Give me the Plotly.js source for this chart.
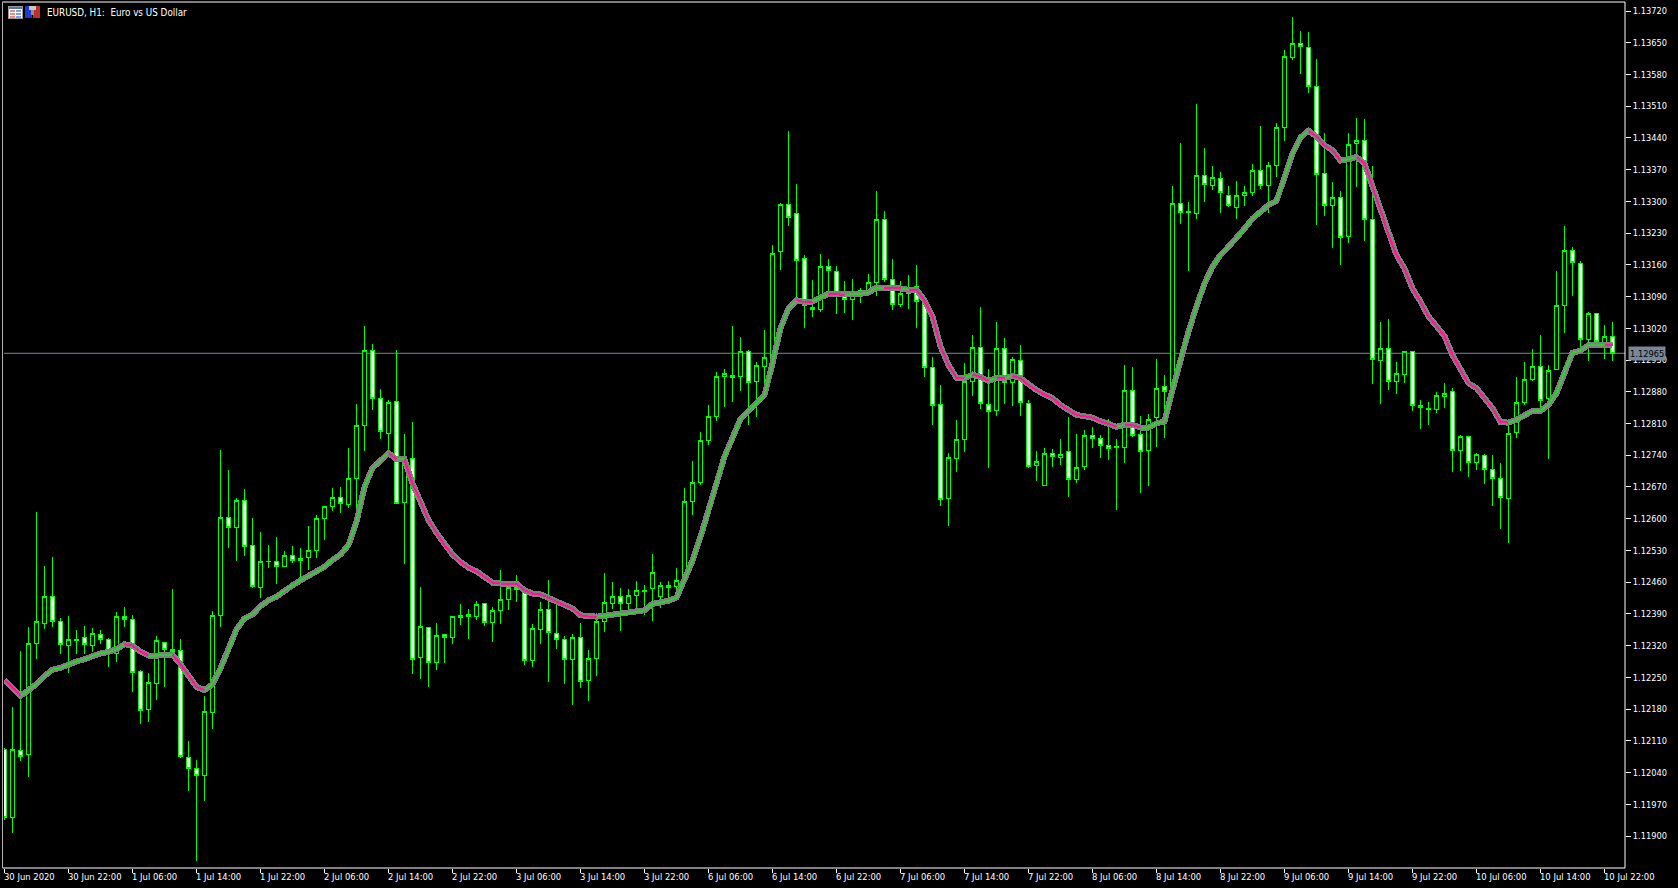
<!DOCTYPE html>
<html>
<head>
<meta charset="utf-8">
<script src="https://cdn.plot.ly/plotly-3.0.1.min.js"></script>
<style>
html,body{margin:0;padding:0;background:#000;overflow:hidden}
#chart{width:1678px;height:888px}
.js-line{shape-rendering:crispEdges}
.boxes path{shape-rendering:crispEdges}
</style>
</head>
<body>
<div id="chart"></div>
<script>
const opens=[
1.12090,1.11941,1.12089,1.12079,1.12325,1.12369,1.12428,1.12373,1.12320,1.12332,
1.12338,1.12320,1.12345,1.12334,1.12303,1.12384,1.12378,1.12263,1.12179,1.12237,
1.12327,1.12312,1.12309,1.12073,1.12049,1.12034,1.12173,1.12387,1.12603,1.12581,
1.12640,1.12541,1.12448,1.12505,1.12506,1.12495,1.12518,1.12508,1.12514,1.12530,
1.12600,1.12626,1.12647,1.12631,1.12689,1.12806,1.12971,1.12865,1.12788,1.12858,
1.12635,1.12732,1.12294,1.12360,1.12283,1.12345,1.12338,1.12383,1.12389,1.12384,
1.12412,1.12371,1.12398,1.12422,1.12448,1.12437,1.12287,1.12356,1.12400,1.12347,
1.12334,1.12290,1.12338,1.12243,1.12292,1.12373,1.12413,1.12428,1.12413,1.12431,
1.12440,1.12446,1.12428,1.12453,1.12450,1.12464,1.12638,1.12680,1.12773,1.12826,
1.12914,1.12916,1.12914,1.12969,1.12903,1.12936,1.12956,1.13190,1.13293,1.13274,
1.13174,1.13066,1.13062,1.13157,1.13146,1.13093,1.13084,1.13094,1.13104,1.13121,
1.13260,1.13128,1.13073,1.13097,1.13113,1.13079,1.12934,1.12852,1.12645,1.12733,
1.12775,1.12903,1.12978,1.12852,1.12839,1.12976,1.12901,1.12949,1.12855,1.12718,
1.12674,1.12744,1.12735,1.12749,1.12687,1.12716,1.12784,1.12777,1.12762,1.12758,
1.12758,1.12883,1.12786,1.12751,1.12824,1.12892,1.12881,1.13296,1.13276,1.13274,
1.13357,1.13335,1.13351,1.13313,1.13287,1.13313,1.13320,1.13368,1.13335,1.13379,
1.13463,1.13618,1.13648,1.13640,1.13554,1.13362,1.13291,1.13309,1.13223,1.13428,
1.13435,1.13260,1.12949,1.12976,1.12903,1.12919,1.12969,1.12850,1.12844,1.12841,
1.12870,1.12881,1.12751,1.12782,1.12724,1.12740,1.12709,1.12689,1.12645,1.12791,
1.12857,1.12907,1.12936,1.12866,1.12930,1.13071,1.13192,1.13163,1.12996,1.13053,
1.12987,1.13002];
const highs=[
1.12095,1.12184,1.12308,1.12362,1.12614,1.12495,1.12515,1.12380,1.12385,1.12354,
1.12363,1.12358,1.12354,1.12336,1.12394,1.12405,1.12387,1.12267,1.12259,1.12341,
1.12327,1.12445,1.12334,1.12109,1.12067,1.12209,1.12396,1.12752,1.12707,1.12645,
1.12665,1.12601,1.12571,1.12542,1.12559,1.12528,1.12539,1.12536,1.12584,1.12609,
1.12627,1.12667,1.12670,1.12755,1.12854,1.13025,1.12985,1.12887,1.12861,1.12972,
1.12786,1.12814,1.12449,1.12362,1.12370,1.12345,1.12386,1.12412,1.12400,1.12418,
1.12413,1.12406,1.12488,1.12457,1.12475,1.12439,1.12367,1.12417,1.12464,1.12411,
1.12342,1.12345,1.12370,1.12310,1.12393,1.12481,1.12460,1.12447,1.12444,1.12462,
1.12453,1.12523,1.12460,1.12462,1.12492,1.12667,1.12727,1.12792,1.12851,1.12923,
1.12931,1.13025,1.13000,1.12972,1.12945,1.13016,1.13203,1.13296,1.13455,1.13338,
1.13182,1.13127,1.13185,1.13174,1.13157,1.13124,1.13129,1.13110,1.13140,1.13323,
1.13278,1.13172,1.13124,1.13137,1.13159,1.13082,1.12957,1.12896,1.12746,1.12818,
1.12943,1.13005,1.13066,1.12930,1.13033,1.12998,1.12956,1.12983,1.12863,1.12749,
1.12757,1.12753,1.12775,1.12824,1.12788,1.12796,1.12802,1.12784,1.12821,1.12775,
1.12940,1.12934,1.12826,1.12832,1.12952,1.12917,1.13335,1.13428,1.13298,1.13514,
1.13417,1.13378,1.13364,1.13335,1.13346,1.13333,1.13382,1.13466,1.13388,1.13472,
1.13635,1.13706,1.13675,1.13673,1.13615,1.13450,1.13343,1.13322,1.13450,1.13485,
1.13481,1.13379,1.13033,1.13040,1.12945,1.12970,1.12970,1.12863,1.12857,1.12879,
1.12899,1.12888,1.12784,1.12783,1.12746,1.12743,1.12740,1.12724,1.12807,1.12912,
1.12945,1.12974,1.13005,1.12939,1.13146,1.13246,1.13199,1.13168,1.13057,1.13053,
1.13027,1.13035];
const lows=[
1.11935,1.11907,1.12066,1.12031,1.12291,1.12356,1.12361,1.12302,1.12260,1.12302,
1.12302,1.12306,1.12324,1.12273,1.12284,1.12361,1.12218,1.12148,1.12152,1.12200,
1.12229,1.12303,1.12073,1.12000,1.11845,1.11978,1.12137,1.12362,1.12536,1.12507,
1.12517,1.12448,1.12426,1.12492,1.12457,1.12495,1.12503,1.12470,1.12486,1.12514,
1.12553,1.12617,1.12613,1.12624,1.12620,1.12750,1.12840,1.12776,1.12747,1.12633,
1.12500,1.12258,1.12247,1.12229,1.12267,1.12282,1.12324,1.12365,1.12334,1.12376,
1.12364,1.12328,1.12368,1.12399,1.12417,1.12278,1.12273,1.12323,1.12240,1.12313,
1.12236,1.12190,1.12227,1.12198,1.12253,1.12351,1.12401,1.12353,1.12397,1.12400,
1.12388,1.12375,1.12404,1.12426,1.12428,1.12461,1.12608,1.12675,1.12763,1.12816,
1.12847,1.12858,1.12882,1.12807,1.12825,1.12890,1.12945,1.13149,1.13246,1.13086,
1.13021,1.13046,1.13057,1.13097,1.13052,1.13054,1.13039,1.13077,1.13098,1.13092,
1.13123,1.13061,1.13068,1.13063,1.13021,1.12913,1.12807,1.12629,1.12584,1.12704,
1.12748,1.12870,1.12843,1.12713,1.12827,1.12854,1.12849,1.12827,1.12711,1.12684,
1.12673,1.12715,1.12719,1.12649,1.12679,1.12708,1.12755,1.12735,1.12730,1.12620,
1.12724,1.12780,1.12657,1.12673,1.12759,1.12777,1.12880,1.13251,1.13147,1.13262,
1.13299,1.13325,1.13275,1.13288,1.13262,1.13290,1.13313,1.13328,1.13274,1.13354,
1.13434,1.13613,1.13582,1.13540,1.13248,1.13268,1.13198,1.13160,1.13209,1.13332,
1.13213,1.12898,1.12852,1.12885,1.12876,1.12900,1.12838,1.12799,1.12807,1.12834,
1.12845,1.12704,1.12706,1.12691,1.12708,1.12677,1.12629,1.12578,1.12547,1.12777,
1.12850,1.12903,1.12844,1.12732,1.12927,1.13010,1.13092,1.12976,1.12949,1.12976,
1.12953,1.12947];
const closes=[
1.11941,1.12090,1.12075,1.12325,1.12373,1.12428,1.12373,1.12323,1.12334,1.12334,
1.12323,1.12347,1.12334,1.12306,1.12384,1.12378,1.12261,1.12177,1.12239,1.12331,
1.12312,1.12307,1.12075,1.12049,1.12034,1.12175,1.12387,1.12603,1.12581,1.12640,
1.12539,1.12451,1.12506,1.12506,1.12495,1.12518,1.12507,1.12512,1.12530,1.12600,
1.12627,1.12647,1.12633,1.12689,1.12806,1.12971,1.12865,1.12792,1.12856,1.12633,
1.12735,1.12289,1.12362,1.12283,1.12342,1.12338,1.12384,1.12387,1.12384,1.12411,
1.12371,1.12398,1.12422,1.12448,1.12444,1.12287,1.12358,1.12400,1.12349,1.12334,
1.12290,1.12338,1.12241,1.12292,1.12373,1.12415,1.12428,1.12413,1.12431,1.12442,
1.12442,1.12481,1.12453,1.12448,1.12464,1.12638,1.12680,1.12773,1.12826,1.12914,
1.12920,1.12912,1.12969,1.12900,1.12938,1.12956,1.13185,1.13293,1.13265,1.13170,
1.13071,1.13062,1.13157,1.13148,1.13097,1.13084,1.13094,1.13104,1.13121,1.13260,
1.13128,1.13073,1.13097,1.13108,1.13079,1.12934,1.12850,1.12643,1.12735,1.12775,
1.12902,1.12978,1.12855,1.12837,1.12976,1.12901,1.12952,1.12857,1.12716,1.12727,
1.12744,1.12738,1.12742,1.12687,1.12713,1.12784,1.12777,1.12762,1.12755,1.12760,
1.12883,1.12784,1.12749,1.12819,1.12888,1.12881,1.13296,1.13276,1.13278,1.13357,
1.13337,1.13353,1.13320,1.13291,1.13313,1.13320,1.13368,1.13335,1.13379,1.13463,
1.13620,1.13648,1.13642,1.13554,1.13360,1.13291,1.13309,1.13221,1.13426,1.13435,
1.13260,1.12951,1.12976,1.12903,1.12921,1.12969,1.12850,1.12845,1.12842,1.12872,
1.12877,1.12751,1.12782,1.12724,1.12742,1.12709,1.12689,1.12647,1.12788,1.12857,
1.12907,1.12936,1.12861,1.12927,1.13071,1.13192,1.13166,1.12996,1.13053,1.12991,
1.13002,1.12965];
const maValues=[
1.12244,1.12228,1.12209,1.12222,1.12235,1.12253,1.12267,1.12271,1.12279,1.12285,
1.12290,1.12297,1.12303,1.12306,1.12312,1.12323,1.12320,1.12307,1.12298,1.12298,
1.12300,1.12300,1.12279,1.12255,1.12229,1.12222,1.12235,1.12270,1.12309,1.12356,
1.12380,1.12389,1.12407,1.12420,1.12428,1.12442,1.12453,1.12464,1.12473,1.12482,
1.12494,1.12509,1.12521,1.12542,1.12593,1.12670,1.12712,1.12728,1.12745,1.12731,
1.12731,1.12678,1.12639,1.12597,1.12569,1.12542,1.12521,1.12505,1.12492,1.12484,
1.12472,1.12459,1.12457,1.12457,1.12457,1.12442,1.12435,1.12433,1.12426,1.12417,
1.12409,1.12402,1.12387,1.12384,1.12384,1.12386,1.12388,1.12390,1.12391,1.12395,
1.12398,1.12412,1.12415,1.12419,1.12426,1.12465,1.12507,1.12560,1.12615,1.12678,
1.12737,1.12775,1.12820,1.12838,1.12854,1.12873,1.12943,1.13020,1.13064,1.13082,
1.13078,1.13079,1.13088,1.13096,1.13095,1.13094,1.13095,1.13096,1.13099,1.13110,
1.13110,1.13108,1.13108,1.13105,1.13105,1.13082,1.13046,1.12980,1.12939,1.12911,
1.12910,1.12918,1.12913,1.12904,1.12910,1.12910,1.12915,1.12910,1.12895,1.12884,
1.12874,1.12866,1.12851,1.12840,1.12829,1.12826,1.12823,1.12815,1.12809,1.12803,
1.12807,1.12807,1.12801,1.12801,1.12810,1.12815,1.12884,1.12954,1.13013,1.13068,
1.13119,1.13156,1.13182,1.13200,1.13218,1.13240,1.13262,1.13277,1.13292,1.13301,
1.13354,1.13406,1.13441,1.13456,1.13443,1.13424,1.13413,1.13390,1.13393,1.13398,
1.13384,1.13332,1.13281,1.13226,1.13182,1.13152,1.13108,1.13079,1.13046,1.13025,
1.13003,1.12961,1.12928,1.12899,1.12888,1.12866,1.12844,1.12813,1.12812,1.12818,
1.12827,1.12838,1.12838,1.12851,1.12877,1.12924,1.12966,1.12971,1.12983,1.12984,
1.12983,1.12983];
// Falling stretches of the average, as [first bar, last bar] pairs; the rest is rising.
const maFallingRuns=[[0,2],[15,18],[21,25],[48,49],[50,74],[99,101],[103,105],[110,112],[113,120],[121,123],[124,125],[126,139],[140,142],[163,167],[169,188],[200,201]];
const xTickBars=[0,8,16,24,32,40,48,56,64,72,80,88,96,104,112,120,128,136,144,152,160,168,176,184,192,200];
const xTickLabels=["30 Jun 2020","30 Jun 22:00","1 Jul 06:00","1 Jul 14:00","1 Jul 22:00","2 Jul 06:00","2 Jul 14:00","2 Jul 22:00","3 Jul 06:00","3 Jul 14:00","3 Jul 22:00","6 Jul 06:00","6 Jul 14:00","6 Jul 22:00","7 Jul 06:00","7 Jul 14:00","7 Jul 22:00","8 Jul 06:00","8 Jul 14:00","8 Jul 22:00","9 Jul 06:00","9 Jul 14:00","9 Jul 22:00","10 Jul 06:00","10 Jul 14:00","10 Jul 22:00"];
const yTicks=[1.11900,1.11970,1.12040,1.12110,1.12180,1.12250,1.12320,1.12390,1.12460,1.12530,1.12600,1.12670,1.12740,1.12810,1.12880,1.12950,1.13020,1.13090,1.13160,1.13230,1.13300,1.13370,1.13440,1.13510,1.13580,1.13650,1.13720];
const currentPrice=1.12965;
const chartTitle="EURUSD, H1:\u00a0\u00a0Euro vs US Dollar";

const bars=opens.map((_,i)=>i);
const isFalling=i=>maFallingRuns.some(r=>i>r[0]&&i<=r[1]);
const segX={up:[],down:[]},segY={up:[],down:[]};
for(let i=1;i<bars.length;i++){
  const k=isFalling(i)?'down':'up';
  segX[k].push(i-1,i,null);
  segY[k].push(maValues[i-1],maValues[i],null);
}
const FONT='"DejaVu Sans Condensed","DejaVu Sans",sans-serif';
const PW=1621;
const icon1='<svg xmlns="http://www.w3.org/2000/svg" width="15" height="13"><rect x="0.5" y="0.5" width="14" height="12" fill="#fff" stroke="#999"/><rect x="1" y="1" width="13" height="2" fill="#5070c0"/><rect x="2" y="4" width="5" height="2" fill="#f08a7a"/><rect x="2" y="7" width="5" height="2" fill="#f08a7a"/><rect x="2" y="10" width="5" height="2" fill="#f08a7a"/><rect x="8" y="4" width="5" height="2" fill="#7f9fe8"/><rect x="8" y="7" width="5" height="2" fill="#7f9fe8"/><rect x="8" y="10" width="5" height="2" fill="#7f9fe8"/></svg>';
const icon2='<svg xmlns="http://www.w3.org/2000/svg" width="15" height="12"><rect width="7" height="12" fill="#2038d0"/><rect x="8" width="7" height="12" fill="#c03028"/><rect x="4" width="7" height="4" fill="#c8c8c8"/><rect x="6" y="4" width="3" height="5" fill="#909090"/></svg>';
const uri=s=>'data:image/svg+xml;base64,'+btoa(s);

Plotly.newPlot('chart',[
 {type:'candlestick',x:bars,open:opens,high:highs,low:lows,close:closes,
  whiskerwidth:0,hoverinfo:'skip',
  increasing:{line:{color:'#00FF00',width:1},fillcolor:'#000000'},
  decreasing:{line:{color:'#00FF00',width:1},fillcolor:'#FFFFFF'}},
 {type:'scatter',mode:'lines',x:bars,y:maValues,hoverinfo:'skip',line:{color:'#808080',width:6}},
 {type:'scatter',mode:'lines',x:segX.up,y:segY.up,hoverinfo:'skip',connectgaps:false,line:{color:'#32CD32',width:2}},
 {type:'scatter',mode:'lines',x:segX.down,y:segY.down,hoverinfo:'skip',connectgaps:false,line:{color:'#FF1493',width:2}}
],{
 width:1678,height:888,showlegend:false,
 paper_bgcolor:'#000',plot_bgcolor:'#000',
 boxgap:0.5,boxgroupgap:0,boxmode:'overlay',
 margin:{l:4,r:53,t:2,b:20,pad:0},
 font:{family:FONT,color:'#fff',size:9.4},
 xaxis:{range:[-0.0625,202.5625],rangeslider:{visible:false},showgrid:false,zeroline:false,fixedrange:true,
   tickmode:'array',tickvals:xTickBars,ticktext:xTickLabels,ticks:'outside',ticklen:4,tickcolor:'#fff',tickwidth:1,
   ticklabelposition:'outside right',ticklabelshift:-1,tickangle:0,tickfont:{family:FONT,size:9.4,color:'#fff'},showline:false},
 yaxis:{range:[1.118295,1.137399],side:'right',showgrid:false,zeroline:false,fixedrange:true,
   tickmode:'array',tickvals:yTicks,tickformat:'.5f',ticks:'outside',ticklen:5,tickcolor:'#fff',tickwidth:1,
   tickfont:{family:FONT,size:9.2,color:'#fff'},showline:false,ticklabelstandoff:0},
 shapes:[
  {type:'line',layer:'below',xref:'paper',x0:0,x1:1,yref:'y',y0:currentPrice,y1:currentPrice,line:{color:'#778899',width:1}},
  {type:'line',layer:'above',xref:'paper',yref:'paper',x0:-1.5/PW,x1:1,y0:1,y1:1,line:{color:'#fff',width:1}},
  {type:'line',layer:'above',xref:'paper',yref:'paper',x0:-1.5/PW,x1:1,y0:0,y1:0,line:{color:'#fff',width:1}},
  {type:'line',layer:'above',xref:'paper',yref:'paper',x0:1,x1:1,y0:0,y1:1,line:{color:'#fff',width:1}},
  {type:'line',layer:'above',xref:'paper',yref:'paper',x0:-1.5/PW,x1:-1.5/PW,y0:0,y1:1,line:{color:'#b0b0b0',width:1}}
 ],
 images:[
  {source:uri(icon1),xref:'paper',yref:'paper',x:4/PW,y:1-4/866,sizex:15/PW,sizey:13/866,xanchor:'left',yanchor:'top',layer:'above',sizing:'stretch'},
  {source:uri(icon2),xref:'paper',yref:'paper',x:21/PW,y:1-4/866,sizex:15/PW,sizey:12/866,xanchor:'left',yanchor:'top',layer:'above',sizing:'stretch'}
 ],
 annotations:[
  {text:chartTitle,xref:'paper',yref:'paper',x:41/PW,y:1-10.5/866,xanchor:'left',yanchor:'middle',showarrow:false,font:{family:FONT,size:9.8,color:'#fff'}},
  {text:currentPrice.toFixed(5),xref:'paper',yref:'y',x:1,y:currentPrice,xanchor:'left',yanchor:'middle',xshift:3,showarrow:false,bgcolor:'#778899',borderpad:1,font:{family:FONT,size:9.2,color:'#000'}}
 ]
},{staticPlot:true,displayModeBar:false});
</script>
</body>
</html>
